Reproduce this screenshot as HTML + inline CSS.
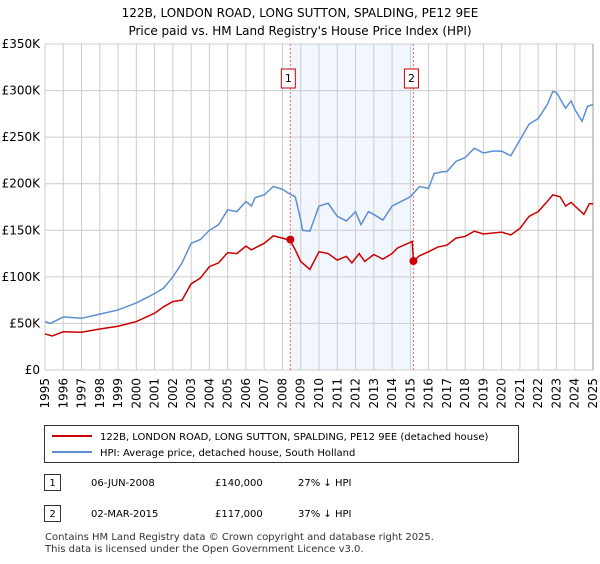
<!DOCTYPE html>
<html><head><meta charset="utf-8"><style>
body{margin:0;background:#fff;font-family:"DejaVu Sans","Liberation Sans",sans-serif;}
svg text{font-family:"DejaVu Sans","Liberation Sans",sans-serif;}
</style></head><body>
<svg id="c" width="600" height="560" xmlns="http://www.w3.org/2000/svg">
<text x="300" y="17" text-anchor="middle" font-size="12">122B, LONDON ROAD, LONG SUTTON, SPALDING, PE12 9EE</text>
<text x="300" y="35" text-anchor="middle" font-size="12">Price paid vs. HM Land Registry's House Price Index (HPI)</text>
<g id="plot"></g>
<g>
<rect x="44.5" y="425.5" width="474" height="37" fill="#fff" stroke="#333"/>
<line x1="52" y1="436" x2="92" y2="436" stroke="#cc0000" stroke-width="2"/>
<text x="100" y="440" font-size="10">122B, LONDON ROAD, LONG SUTTON, SPALDING, PE12 9EE (detached house)</text>
<line x1="52" y1="452" x2="92" y2="452" stroke="#5b8fd1" stroke-width="2"/>
<text x="100" y="456" font-size="10">HPI: Average price, detached house, South Holland</text>
</g>
<g font-size="10">
<rect x="44.5" y="474.5" width="16" height="16" fill="#fff" stroke="#333"/><text x="52.5" y="486" text-anchor="middle">1</text>
<text x="91" y="486">06-JUN-2008</text><text x="215" y="486">£140,000</text><text x="298" y="486">27% ↓ HPI</text>
<rect x="44.5" y="505.5" width="16" height="16" fill="#fff" stroke="#333"/><text x="52.5" y="517" text-anchor="middle">2</text>
<text x="91" y="517">02-MAR-2015</text><text x="215" y="517">£117,000</text><text x="298" y="517">37% ↓ HPI</text>
</g>
<text x="45" y="540" font-size="10" fill="#333">Contains HM Land Registry data © Crown copyright and database right 2025.</text>
<text x="45" y="552" font-size="10" fill="#333">This data is licensed under the Open Government Licence v3.0.</text>
</svg>
<script>
const hpiYears=[1995,1995.3,1996,1997,1998,1999,2000,2001,2001.5,2002,2002.5,2003,2003.5,2004,2004.5,2005,2005.5,2006,2006.3,2006.5,2007,2007.5,2008,2008.4,2008.7,2009,2009.1,2009.5,2010,2010.5,2011,2011.5,2012,2012.3,2012.7,2013,2013.5,2014,2014.5,2015,2015.5,2016,2016.3,2016.8,2017,2017.5,2018,2018.5,2019,2019.5,2020,2020.5,2021,2021.5,2022,2022.5,2022.8,2023,2023.5,2023.8,2024,2024.4,2024.7,2025];
const hpiValues=[52,50,57,55.5,60,64.5,72,82,88,100,115,136,140,150,156,172,170,181,176,185,188,197,194,189,186,161,150,149,176,179,165,160,170,156,170,167,161,176,181,186,197,195,211,213,213,224,228,238,233,235,235,230,247,264,270,285,299,298,281,289,280,267,283,285];
const ppYears=[1995,1995.4,1996,1997,1998,1999,2000,2001,2001.5,2002,2002.5,2003,2003.5,2004,2004.5,2005,2005.5,2006,2006.3,2007,2007.5,2008,2008.43,2008.7,2009,2009.5,2010,2010.5,2011,2011.5,2011.8,2012.2,2012.5,2013,2013.5,2014,2014.3,2015.1,2015.17,2015.5,2016,2016.5,2017,2017.5,2018,2018.5,2019,2020,2020.5,2021,2021.5,2022,2022.5,2022.8,2023.2,2023.5,2023.8,2024.5,2024.8,2025];
const ppValues=[38.7,36.5,41,40.5,44,47,52,61,68,73.5,75,92.5,98.6,111,115,126,125,133,129,136,144,141.6,139,129,116.5,108,127,125,118,122,115,125,116.5,124,119,125,131,138,117,122.6,127,132,134,141.6,143.4,149,146,148,145,152,165,170,181,188,186,176,180,167,178.5,178.5];
const saleYears=[2008.43,2015.17];
const saleValues=[140,117];
const saleLabels=["1","2"];
const yTicks=[0,50,100,150,200,250,300,350];
const yTickLabels=["£0","£50K","£100K","£150K","£200K","£250K","£300K","£350K"];
const xTicks=[1995,1996,1997,1998,1999,2000,2001,2002,2003,2004,2005,2006,2007,2008,2009,2010,2011,2012,2013,2014,2015,2016,2017,2018,2019,2020,2021,2022,2023,2024,2025];

const X0=45,X1=593,Y0=370,Y1=44;
const sx=y=>X0+(y-1995)/30*(X1-X0);
const sy=v=>Y0-v/350*(Y0-Y1);
const NS="http://www.w3.org/2000/svg";
const g=document.getElementById('plot');
function mk(t,a,p){const e=document.createElementNS(NS,t);for(const k in a)e.setAttribute(k,a[k]);(p||g).appendChild(e);return e;}
const sh=mk('rect',{x:sx(saleYears[0]),y:Y1,width:sx(saleYears[1])-sx(saleYears[0]),height:Y0-Y1,fill:'#f2f6fe'});


xTicks.forEach(t=>{const l=mk('line',{x1:sx(t),x2:sx(t),y1:Y1,y2:Y0,stroke:'#ccc'});


const tx=mk('text',{x:0,y:0,'font-size':12,'text-anchor':'end',transform:`translate(${sx(t)+4},${Y0+8}) rotate(-90)`});
tx.textContent=t;

});
yTicks.forEach((t,i)=>{const l=mk('line',{x1:X0,x2:X1,y1:sy(t),y2:sy(t),stroke:'#ccc'});


const tx=mk('text',{x:40,y:sy(t)+4,'font-size':12,'text-anchor':'end'});
tx.textContent=yTickLabels[i];

});
const rb=mk('line',{x1:X1,x2:X1,y1:Y1,y2:Y0,stroke:'#999'});


saleYears.forEach((y,i)=>{const l=mk('line',{x1:sx(y),x2:sx(y),y1:Y1,y2:Y0,stroke:'#ff6666','stroke-dasharray':'2,2'});

});
const hp=mk('polyline',{points:hpiYears.map((y,i)=>sx(y)+','+sy(hpiValues[i])).join(' '),fill:'none',stroke:'#5b8fd1','stroke-width':1.5});


const pp=mk('polyline',{points:ppYears.map((y,i)=>sx(y)+','+sy(ppValues[i])).join(' '),fill:'none',stroke:'#cc0000','stroke-width':1.5});


saleYears.forEach((y,i)=>{const c=mk('circle',{cx:sx(y),cy:sy(saleValues[i]),r:4,fill:'#cc0000'});


const b=mk('rect',{x:sx(y)-9,y:69,width:14,height:19,fill:'#fff',stroke:'#cc0000'});


const t=mk('text',{x:sx(y)-2,y:82,'font-size':11,'text-anchor':'middle'});
t.textContent=saleLabels[i];

});
</script>
</body></html>
